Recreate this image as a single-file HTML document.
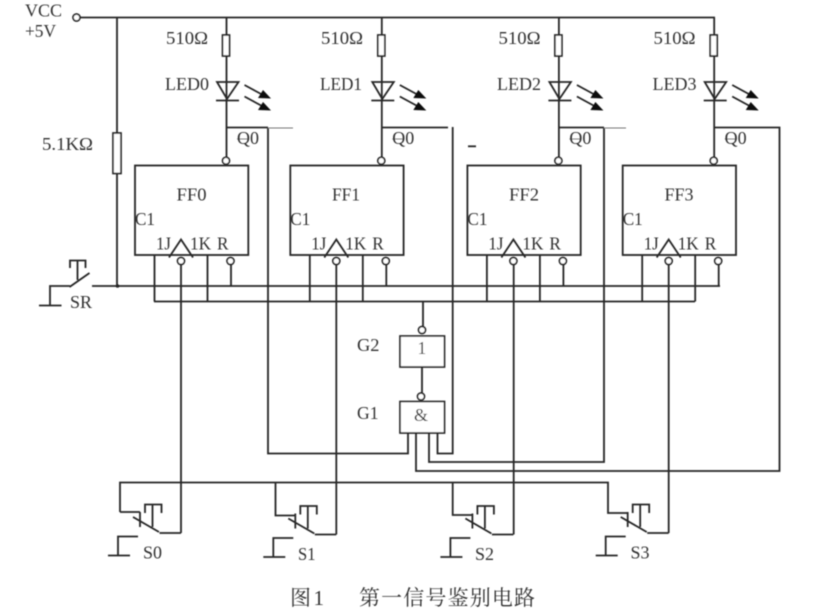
<!DOCTYPE html>
<html><head><meta charset="utf-8"><style>
html,body{margin:0;padding:0;background:#fff;width:829px;height:613px;overflow:hidden}
svg{display:block}
text{font-family:"Liberation Serif","Noto Serif CJK SC",serif;font-size:17.500px;fill:#333}
.w{fill:none;stroke:#262626;stroke-width:1.800}
.t{fill:none;stroke:#777;stroke-width:.9}
.o{fill:#fff;stroke:#262626;stroke-width:1.700}
.a{fill:#111;stroke:none}
</style></head><body>
<svg width="829" height="613" viewBox="0 0 829 613" xmlns="http://www.w3.org/2000/svg">
<defs>
<filter id="b" x="-2%" y="-2%" width="104%" height="104%"><feGaussianBlur stdDeviation="0.42"/></filter>
<g id="col">
<path class="w" d="M226.500 17.500V35M226.500 56V157"/>
<rect class="o" x="222.500" y="35" width="7" height="21"/>
<path class="w" d="M217 82H238.500L227 99ZM216 100.500H239"/>
<path class="w" d="M244.500 85L262 94.500M244.500 96.500L262 106"/>
<path class="a" d="M271 98.500L258 98L263 90ZM271 110.500L258 110L263 102Z"/>
<circle class="o" cx="226" cy="160.700" r="3.500"/>
<rect class="w" x="135" y="165.500" width="113.300" height="89.500"/>
<path class="w" d="M169 257.500L181 239.500L193 257.500"/>
<circle class="o" cx="181" cy="261" r="3.500"/>
<circle class="o" cx="230.500" cy="261" r="3.500"/>
<path class="w" d="M154.500 255V301.500M207.500 255V301.500M231 264.500V286"/>
<path class="t" d="M237 139H249"/>
</g>
<g id="sw">
<path class="w" d="M140 512V527M133 517L159 532M145 513V504.500H161.500V513M152.500 504.500V527M159.500 533H181M138 536.500H118V555M108 555.500H130"/>
</g>
</defs>
<rect width="829" height="613" fill="#fff"/>
<g filter="url(#b)">
<circle class="o" cx="76.500" cy="17.500" r="3.500"/>
<path class="w" d="M80 17.500H715M117 17.500V133M117 173V286"/>
<rect class="o" x="113" y="133" width="8" height="40.500"/>
<circle cx="117.500" cy="286" r="1.800" fill="#222"/>
<use href="#col"/>
<use href="#col" x="155.300"/>
<use href="#col" x="332.400"/>
<use href="#col" x="487.700"/>

<path class="w" d="M92 286H300M300 286H720M154 301.500H695"/>

<path class="w" d="M50 305V286H70M69.500 287L89.500 273M77.500 260.500V280M70 268V260.500H85.500V268M39 305.500H61.500"/>

<path class="w" d="M226.500 127.500H268M268 127.500V453.500H408V433"/>
<path class="t" d="M268 128H293"/>
<path class="w" d="M381.800 127.500H448M452.700 127V453.500H437.500V433"/>
<path class="w" d="M558.900 127.500H604M604 127.500V462H429V433"/>
<path class="t" d="M604 128H626"/>
<path class="w" d="M714.200 127.500H779.500V471H416V433"/>
<path class="w" d="M468 146.300H476" stroke-width="2"/>

<path class="w" d="M181 264.500V533M336.300 264.500V534.500M513.700 264.500V534.500M668.700 264.500V533"/>
<path class="w" d="M120 512V482.500H608V513H628M120 512H140M275.500 482.500V515.500H295M452.700 482.500V515H473"/>
<use href="#sw"/>
<use href="#sw" x="155.300" y="1.500"/>
<use href="#sw" x="332.400" y="1.500"/>
<use href="#sw" x="487.700" y="0"/>

<path class="w" d="M423 301.500V326.500M422 367V392.500"/>
<circle class="o" cx="422" cy="330" r="3.500"/>
<circle class="o" cx="421" cy="396.500" r="3.500"/>
<rect class="o" x="400" y="336" width="44.500" height="31"/>
<rect class="o" x="400" y="401.500" width="44.500" height="31.500"/>

<text x="25" y="16.500" textLength="37" lengthAdjust="spacingAndGlyphs">VCC</text>
<text x="25" y="37" textLength="31" lengthAdjust="spacingAndGlyphs">+5V</text>
<text x="42" y="150" textLength="51" lengthAdjust="spacingAndGlyphs">5.1KΩ</text>

<text x="166" y="44" textLength="42" lengthAdjust="spacingAndGlyphs">510Ω</text>
<text x="321" y="44" textLength="42" lengthAdjust="spacingAndGlyphs">510Ω</text>
<text x="498.500" y="44" textLength="42" lengthAdjust="spacingAndGlyphs">510Ω</text>
<text x="653.500" y="44" textLength="42" lengthAdjust="spacingAndGlyphs">510Ω</text>

<text x="165" y="90" textLength="44" lengthAdjust="spacingAndGlyphs">LED0</text>
<text x="320" y="90" textLength="42" lengthAdjust="spacingAndGlyphs">LED1</text>
<text x="497" y="90" textLength="44" lengthAdjust="spacingAndGlyphs">LED2</text>
<text x="652.500" y="90" textLength="44" lengthAdjust="spacingAndGlyphs">LED3</text>

<text x="237" y="144" textLength="22" lengthAdjust="spacingAndGlyphs">Q0</text>
<text x="392.300" y="144" textLength="22" lengthAdjust="spacingAndGlyphs">Q0</text>
<text x="569.400" y="144" textLength="22" lengthAdjust="spacingAndGlyphs">Q0</text>
<text x="724.700" y="144" textLength="22" lengthAdjust="spacingAndGlyphs">Q0</text>

<text x="176.500" y="200.500" textLength="30" lengthAdjust="spacingAndGlyphs">FF0</text>
<text x="332" y="200.500" textLength="28" lengthAdjust="spacingAndGlyphs">FF1</text>
<text x="509" y="200.500" textLength="30" lengthAdjust="spacingAndGlyphs">FF2</text>
<text x="664.500" y="200.500" textLength="29" lengthAdjust="spacingAndGlyphs">FF3</text>

<text x="135" y="225" textLength="20" lengthAdjust="spacingAndGlyphs">C1</text>
<text x="290.300" y="225" textLength="20" lengthAdjust="spacingAndGlyphs">C1</text>
<text x="467.400" y="225" textLength="20" lengthAdjust="spacingAndGlyphs">C1</text>
<text x="622.700" y="225" textLength="20" lengthAdjust="spacingAndGlyphs">C1</text>

<text x="156" y="249.500" textLength="15" lengthAdjust="spacingAndGlyphs">1J</text>
<text x="190" y="249.500" textLength="21" lengthAdjust="spacingAndGlyphs">1K</text>
<text x="217" y="249.500" textLength="11.500" lengthAdjust="spacingAndGlyphs">R</text>
<text x="311.300" y="249.500" textLength="15" lengthAdjust="spacingAndGlyphs">1J</text>
<text x="345.300" y="249.500" textLength="21" lengthAdjust="spacingAndGlyphs">1K</text>
<text x="372.300" y="249.500" textLength="11.500" lengthAdjust="spacingAndGlyphs">R</text>
<text x="488.400" y="249.500" textLength="15" lengthAdjust="spacingAndGlyphs">1J</text>
<text x="522.400" y="249.500" textLength="21" lengthAdjust="spacingAndGlyphs">1K</text>
<text x="549.400" y="249.500" textLength="11.500" lengthAdjust="spacingAndGlyphs">R</text>
<text x="643.700" y="249.500" textLength="15" lengthAdjust="spacingAndGlyphs">1J</text>
<text x="677.700" y="249.500" textLength="21" lengthAdjust="spacingAndGlyphs">1K</text>
<text x="704.700" y="249.500" textLength="11.500" lengthAdjust="spacingAndGlyphs">R</text>

<text x="70" y="308" textLength="22" lengthAdjust="spacingAndGlyphs">SR</text>
<text x="357" y="351" textLength="22.500" lengthAdjust="spacingAndGlyphs">G2</text>
<text x="357" y="419" textLength="21.500" lengthAdjust="spacingAndGlyphs">G1</text>
<text x="417.500" y="354">1</text>
<text x="414" y="421" textLength="14" lengthAdjust="spacingAndGlyphs">&amp;</text>

<text x="143" y="558.500" textLength="19" lengthAdjust="spacingAndGlyphs">S0</text>
<text x="298" y="560" textLength="17.500" lengthAdjust="spacingAndGlyphs">S1</text>
<text x="475" y="560" textLength="19" lengthAdjust="spacingAndGlyphs">S2</text>
<text x="630.500" y="558.500" textLength="19" lengthAdjust="spacingAndGlyphs">S3</text>

<text x="290" y="605" style="font-size:21px" textLength="34">图 1</text>
<text x="359" y="605" style="font-size:21px" textLength="176">第一信号鉴别电路</text>
</g>
</svg>
</body></html>
